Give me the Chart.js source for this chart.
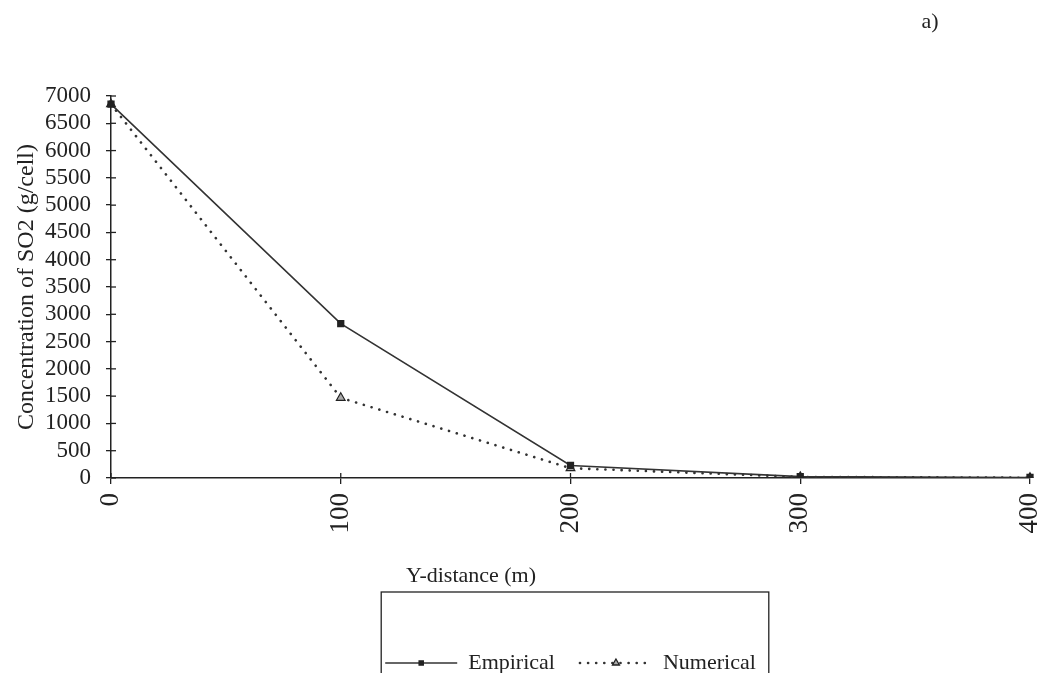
<!DOCTYPE html>
<html>
<head>
<meta charset="utf-8">
<script src="https://cdn.jsdelivr.net/npm/chart.js@4.4.1/dist/chart.umd.min.js"></script>
<style>
  html, body { margin: 0; padding: 0; background: #fff; }
  #wrap { width: 1046px; height: 673px; }
</style>
</head>
<body>
<div id="wrap"><canvas id="chart"></canvas></div>
<script>
// values
const distances = ["0", "100", "200", "300", "400"];
const empirical = [6850, 2830, 230, 25, 10];
const numerical = [6850, 1470, 180, 20, 5];
const yTicks = [0, 500, 1000, 1500, 2000, 2500, 3000, 3500, 4000, 4500, 5000, 5500, 6000, 6500, 7000];

const serif = "'Liberation Serif', 'DejaVu Serif', serif";
const ink = "#222";

// extra drawing: inward tick halves, axis title, panel label, legend frame + samples
const extras = {
  id: "extras",
  afterDraw(chart) {
    const ctx = chart.ctx;
    const x = chart.scales.x, y = chart.scales.y;
    const area = chart.chartArea;
    ctx.save();
    ctx.strokeStyle = ink;
    ctx.lineWidth = 1.3;
    yTicks.forEach(v => {
      const py = y.getPixelForValue(v);
      ctx.beginPath(); ctx.moveTo(area.left, py); ctx.lineTo(area.left + 5, py); ctx.stroke();
    });
    distances.forEach((d, i) => {
      const px = x.getPixelForValue(i);
      ctx.beginPath(); ctx.moveTo(px, area.bottom); ctx.lineTo(px, area.bottom - 5); ctx.stroke();
    });

    ctx.fillStyle = ink;
    ctx.textAlign = "center";
    ctx.textBaseline = "middle";
    ctx.font = "22px " + serif;
    ctx.fillText("Y-distance (m)", 471, 576);
    ctx.fillText("a)", 930, 22);

    // legend frame and line samples
    const lg = chart.legend;
    const boxes = lg.legendHitBoxes;
    if (boxes && boxes.length) {
      const first = boxes[0], last = boxes[boxes.length - 1];
      ctx.lineWidth = 1.3;
      ctx.strokeRect(first.left - 4, 592, last.left + last.width + 13 - (first.left - 4), 140);
      const bw = lg.options.labels.boxWidth;
      boxes.forEach((b, i) => {
        const ds = chart.data.datasets[i];
        const cy = b.top + b.height / 2;
        ctx.save();
        ctx.strokeStyle = ds.borderColor;
        ctx.lineWidth = ds.borderWidth;
        ctx.lineCap = ds.borderCapStyle || "butt";
        ctx.setLineDash(ds.borderDash || []);
        ctx.beginPath(); ctx.moveTo(b.left, cy); ctx.lineTo(b.left + bw, cy); ctx.stroke();
        ctx.restore();
        ctx.save();
        ctx.fillStyle = ds.pointBackgroundColor;
        ctx.strokeStyle = ds.pointBorderColor;
        Chart.helpers.drawPoint(ctx, {
          pointStyle: ds.pointStyle, radius: ds.pointRadius - 1, borderWidth: 1.2
        }, b.left + bw / 2, cy);
        ctx.restore();
      });
    }
    ctx.restore();
  }
};

new Chart(document.getElementById("chart"), {
  type: "line",
  data: {
    labels: distances,
    datasets: [
      {
        label: "Empirical",
        data: empirical,
        borderColor: "#333",
        backgroundColor: "#222",
        borderWidth: 1.6,
        pointStyle: "rect",
        pointRadius: 4,
        pointBorderColor: "#222",
        pointBackgroundColor: "#222",
        tension: 0,
        order: 1
      },
      {
        label: "Numerical",
        data: numerical,
        borderColor: "#333",
        backgroundColor: "#999",
        borderWidth: 2.6,
        borderDash: [0.1, 8],
        borderCapStyle: "round",
        pointStyle: "triangle",
        pointRadius: 5,
        pointBorderColor: "#222",
        pointBackgroundColor: "#aaa",
        pointBorderWidth: 1.2,
        tension: 0,
        order: 2
      }
    ]
  },
  options: {
    responsive: true,
    maintainAspectRatio: false,
    animation: false,
    layout: { padding: { top: 96, right: 0, left: 15, bottom: -11 } },
    plugins: {
      title: { display: false },
      tooltip: { enabled: false },
      legend: {
        position: "bottom",
        fullSize: false,
        labels: {
          color: ink,
          font: { family: serif, size: 22 },
          boxWidth: 72,
          boxHeight: 22,
          padding: 25,
          generateLabels: (chart) => chart.data.datasets.map((ds, i) => ({
            text: ds.label,
            fillStyle: "rgba(0,0,0,0)",
            strokeStyle: "rgba(0,0,0,0)",
            lineWidth: 0,
            fontColor: ink,
            datasetIndex: i
          }))
        }
      }
    },
    scales: {
      x: {
        type: "category",
        offset: false,
        border: { color: ink, width: 1.5 },
        grid: { drawOnChartArea: false, drawTicks: true, tickLength: 6, color: ink, lineWidth: 1.3 },
        afterFit: (scale) => {
          scale.height = 149;
          scale.paddingLeft = 0;
          scale.paddingRight = 16;
        },
        ticks: {
          color: ink,
          font: { family: serif, size: 27 },
          minRotation: 90,
          maxRotation: 90,
          padding: 9,
          autoSkip: false
        }
      },
      y: {
        min: 0,
        max: 7000,
        border: { color: ink, width: 1.5 },
        grid: { drawOnChartArea: false, drawTicks: true, tickLength: 5, color: ink, lineWidth: 1.3 },
        afterBuildTicks: (scale) => { scale.ticks = yTicks.map(v => ({ value: v })); },
        afterFit: (scale) => { scale.width = 96; },
        ticks: {
          color: ink,
          font: { family: serif, size: 23 },
          padding: 15,
          autoSkip: false,
          callback: (v) => String(v)
        },
        title: {
          display: true,
          text: "Concentration of SO2 (g/cell)",
          color: ink,
          font: { family: serif, size: 24, lineHeight: 1 },
          padding: { top: 0, bottom: 0 }
        }
      }
    }
  },
  plugins: [extras]
});
</script>
</body>
</html>
